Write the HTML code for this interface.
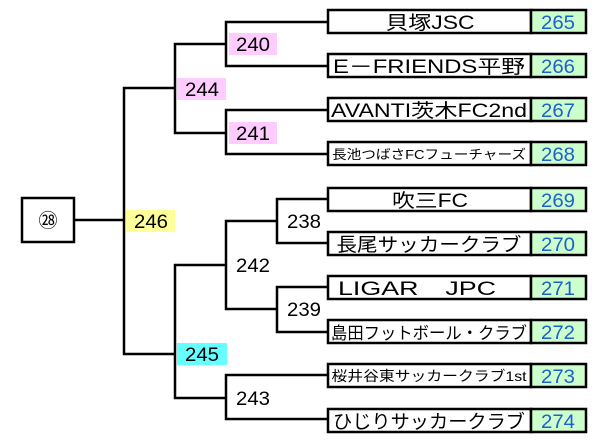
<!DOCTYPE html>
<html><head><meta charset="utf-8"><style>
html,body{margin:0;padding:0;background:#fff;width:600px;height:443px;overflow:hidden}
text{font-family:"Liberation Sans","Noto Sans CJK JP",sans-serif}
</style></head><body>
<svg width="600" height="443" viewBox="0 0 600 443" xmlns="http://www.w3.org/2000/svg">
<g fill="none" stroke="#000" stroke-width="2.5">
<polyline points="327,22 226,22 226,66 327,66"/>
<polyline points="327,110 226,110 226,154 327,154"/>
<polyline points="226,44 175,44 175,133 226,133"/>
<polyline points="175,88 124,88 124,354 175,354"/>
<line x1="74" y1="220" x2="124" y2="220"/>
<polyline points="327,199 277,199 277,243 327,243"/>
<polyline points="327,287 277,287 277,332 327,332"/>
<polyline points="277,221 226,221 226,309 277,309"/>
<polyline points="327,375 226,375 226,419 327,419"/>
<polyline points="226,265 175,265 175,398 226,398"/>
<rect x="22" y="198" width="52" height="44"/>
</g>
<text x="48" y="227" font-size="19" text-anchor="middle">㉘</text>
<g font-size="19">
<rect x="229" y="33" width="48" height="22" fill="#ffccff"/>
<text x="236" y="51" textLength="34" lengthAdjust="spacingAndGlyphs">240</text>
<rect x="177" y="78" width="49" height="22" fill="#ffccff"/>
<text x="185" y="96" textLength="34" lengthAdjust="spacingAndGlyphs">244</text>
<rect x="229" y="122" width="48" height="22" fill="#ffccff"/>
<text x="236" y="140" textLength="34" lengthAdjust="spacingAndGlyphs">241</text>
<rect x="126" y="210" width="49" height="22" fill="#ffff99"/>
<text x="134" y="228" textLength="34" lengthAdjust="spacingAndGlyphs">246</text>
<rect x="177" y="343" width="50" height="22" fill="#66ffff"/>
<text x="185" y="361" textLength="34" lengthAdjust="spacingAndGlyphs">245</text>
<text x="287" y="228" textLength="34" lengthAdjust="spacingAndGlyphs">238</text>
<text x="236" y="272" textLength="34" lengthAdjust="spacingAndGlyphs">242</text>
<text x="287" y="316" textLength="34" lengthAdjust="spacingAndGlyphs">239</text>
<text x="236" y="405" textLength="34" lengthAdjust="spacingAndGlyphs">243</text>
</g>
<g font-size="19">
<g transform="translate(0,10)"><rect x="328" y="0" width="203" height="23" fill="#fff" stroke="#000" stroke-width="2.5"/><rect x="531" y="0" width="55" height="23" fill="#ccffcc" stroke="#000" stroke-width="2.5"/><text x="430" y="19" text-anchor="middle" textLength="89" lengthAdjust="spacingAndGlyphs">貝塚JSC</text><text x="558" y="19" text-anchor="middle" fill="#1f5fd0" textLength="34" lengthAdjust="spacingAndGlyphs">265</text></g>
<g transform="translate(0,54)"><rect x="328" y="0" width="203" height="23" fill="#fff" stroke="#000" stroke-width="2.5"/><rect x="531" y="0" width="55" height="23" fill="#ccffcc" stroke="#000" stroke-width="2.5"/><text x="429" y="19" text-anchor="middle" textLength="192" lengthAdjust="spacingAndGlyphs">E－FRIENDS平野</text><text x="558" y="19" text-anchor="middle" fill="#1f5fd0" textLength="34" lengthAdjust="spacingAndGlyphs">266</text></g>
<g transform="translate(0,98)"><rect x="328" y="0" width="203" height="23" fill="#fff" stroke="#000" stroke-width="2.5"/><rect x="531" y="0" width="55" height="23" fill="#ccffcc" stroke="#000" stroke-width="2.5"/><text x="429" y="19" text-anchor="middle" textLength="196" lengthAdjust="spacingAndGlyphs">AVANTI茨木FC2nd</text><text x="558" y="19" text-anchor="middle" fill="#1f5fd0" textLength="34" lengthAdjust="spacingAndGlyphs">267</text></g>
<g transform="translate(0,142)"><rect x="328" y="0" width="203" height="23" fill="#fff" stroke="#000" stroke-width="2.5"/><rect x="531" y="0" width="55" height="23" fill="#ccffcc" stroke="#000" stroke-width="2.5"/><text x="429" y="17" text-anchor="middle" font-size="13" textLength="194" lengthAdjust="spacingAndGlyphs">長池つばさFCフューチャーズ</text><text x="558" y="19" text-anchor="middle" fill="#1f5fd0" textLength="34" lengthAdjust="spacingAndGlyphs">268</text></g>
<g transform="translate(0,188)"><rect x="328" y="0" width="203" height="23" fill="#fff" stroke="#000" stroke-width="2.5"/><rect x="531" y="0" width="55" height="23" fill="#ccffcc" stroke="#000" stroke-width="2.5"/><text x="430" y="19" text-anchor="middle" textLength="76" lengthAdjust="spacingAndGlyphs">吹三FC</text><text x="558" y="19" text-anchor="middle" fill="#1f5fd0" textLength="34" lengthAdjust="spacingAndGlyphs">269</text></g>
<g transform="translate(0,232)"><rect x="328" y="0" width="203" height="23" fill="#fff" stroke="#000" stroke-width="2.5"/><rect x="531" y="0" width="55" height="23" fill="#ccffcc" stroke="#000" stroke-width="2.5"/><text x="429" y="19" text-anchor="middle" textLength="185" lengthAdjust="spacingAndGlyphs">長尾サッカークラブ</text><text x="558" y="19" text-anchor="middle" fill="#1f5fd0" textLength="34" lengthAdjust="spacingAndGlyphs">270</text></g>
<g transform="translate(0,276)"><rect x="328" y="0" width="203" height="23" fill="#fff" stroke="#000" stroke-width="2.5"/><rect x="531" y="0" width="55" height="23" fill="#ccffcc" stroke="#000" stroke-width="2.5"/><text x="417" y="19" text-anchor="middle" textLength="158" lengthAdjust="spacingAndGlyphs">LIGAR　JPC</text><text x="558" y="19" text-anchor="middle" fill="#1f5fd0" textLength="34" lengthAdjust="spacingAndGlyphs">271</text></g>
<g transform="translate(0,320)"><rect x="328" y="0" width="203" height="23" fill="#fff" stroke="#000" stroke-width="2.5"/><rect x="531" y="0" width="55" height="23" fill="#ccffcc" stroke="#000" stroke-width="2.5"/><text x="429" y="19" text-anchor="middle" font-size="17" textLength="196" lengthAdjust="spacingAndGlyphs">島田フットボール・クラブ</text><text x="558" y="19" text-anchor="middle" fill="#1f5fd0" textLength="34" lengthAdjust="spacingAndGlyphs">272</text></g>
<g transform="translate(0,364)"><rect x="328" y="0" width="203" height="23" fill="#fff" stroke="#000" stroke-width="2.5"/><rect x="531" y="0" width="55" height="23" fill="#ccffcc" stroke="#000" stroke-width="2.5"/><text x="429" y="17" text-anchor="middle" font-size="14" textLength="195" lengthAdjust="spacingAndGlyphs">桜井谷東サッカークラブ1st</text><text x="558" y="19" text-anchor="middle" fill="#1f5fd0" textLength="34" lengthAdjust="spacingAndGlyphs">273</text></g>
<g transform="translate(0,409)"><rect x="328" y="0" width="203" height="23" fill="#fff" stroke="#000" stroke-width="2.5"/><rect x="531" y="0" width="55" height="23" fill="#ccffcc" stroke="#000" stroke-width="2.5"/><text x="429" y="19" text-anchor="middle" textLength="192" lengthAdjust="spacingAndGlyphs">ひじりサッカークラブ</text><text x="558" y="19" text-anchor="middle" fill="#1f5fd0" textLength="34" lengthAdjust="spacingAndGlyphs">274</text></g>
</g>
</svg>
</body></html>
